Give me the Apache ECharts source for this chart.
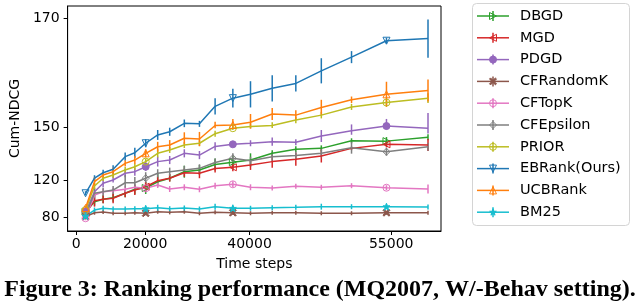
<!DOCTYPE html>
<html><head><meta charset="utf-8">
<script src="https://cdn.jsdelivr.net/npm/echarts@6/dist/echarts.min.js"></script>
<style>html,body{margin:0;padding:0;background:#fff}#c{width:640px;height:308px}</style>
</head><body><div id="c"></div>
<script>
// ---------------- data ----------------
const timeSteps = [2700, 5300, 7800, 10700, 14200, 17000, 20100, 22400, 24700, 27500, 30400, 33400, 36800, 40100, 42400, 44900, 47600, 50800, 54500, 58900];
const xTickValues = [0, 20000, 40000, 55000];
const yTickValues = [80, 120, 150, 170];
const seriesNames = ['DBGD', 'MGD', 'PDGD', 'CFRandomK', 'CFTopK', 'CFEpsilon', 'PRIOR', 'EBRank(Ours)', 'UCBRank', 'BM25'];

const dbgd = [86.5, 97.3, 99.9, 101.6, 106.4, 110.7, 112.1, 118.9, 121.4, 125.1, 126.1, 129.2, 130.5, 131.7, 135.5, 137.8, 138.3, 142.6, 142.4, 144.6];
const dbgdErr = [3.2, 4.3, 4.3, 4.3, 4.3, 5.4, 6.5, 5.4, 2.3, 3.4, 2.8, 3.4, 3.7, 3.8, 1.7, 1.7, 1.7, 1.4, 2.3, 1.7];
const mgd = [84.8, 98.4, 99.9, 101.0, 106.4, 109.9, 113.5, 120.0, 121.4, 124.5, 124.2, 126.9, 127.6, 128.9, 130.8, 132.1, 134.0, 138.3, 140.6, 140.2];
const mgdErr = [3.2, 6.5, 4.3, 5.4, 4.3, 5.4, 5.4, 2.3, 2.3, 2.3, 2.8, 2.3, 2.3, 2.8, 3.4, 3.7, 3.7, 1.0, 1.7, 3.4];
const pdgd = [86.5, 108.1, 117.2, 120.4, 124.2, 125.1, 127.9, 130.8, 131.7, 135.5, 134.5, 139.4, 140.6, 141.2, 142.1, 141.8, 145.3, 148.3, 150.3, 149.7];
const pdgdErr = [3.2, 4.3, 4.3, 2.3, 2.3, 2.3, 2.3, 2.8, 2.3, 2.3, 2.3, 2.3, 1.7, 1.7, 2.3, 1.7, 3.4, 2.3, 1.3, 3.0];
const cfRandomK = [81.1, 85.4, 86.2, 84.8, 84.8, 85.4, 84.8, 86.5, 85.8, 86.5, 84.8, 85.8, 85.4, 84.8, 85.4, 85.4, 84.8, 84.8, 85.4, 85.4];
const cfRandomKErr = [1.6, 2.2, 2.2, 2.2, 2.2, 2.2, 2.2, 2.2, 2.2, 2.2, 2.2, 2.2, 2.2, 2.2, 2.2, 2.2, 2.2, 2.2, 2.2, 2.2];
const cfTopK = [79.4, 104.5, 108.1, 109.2, 110.7, 112.9, 111.8, 115.3, 111.0, 112.9, 110.7, 114.6, 116.1, 112.9, 112.1, 113.9, 112.9, 114.6, 112.4, 111.0];
const cfTopKErr = [2.2, 3.2, 3.2, 3.2, 3.2, 3.2, 3.2, 3.2, 3.2, 3.2, 3.2, 3.2, 3.2, 3.2, 2.7, 2.7, 2.7, 2.7, 2.7, 4.9];
const cfEpsilon = [82.9, 106.4, 108.1, 109.9, 117.8, 117.8, 121.4, 124.2, 125.1, 126.1, 127.0, 130.3, 132.7, 131.3, 133.6, 134.2, 135.5, 138.7, 136.4, 139.2];
const cfEpsilonErr = [3.2, 5.4, 4.3, 4.3, 5.4, 4.3, 3.4, 2.3, 2.3, 2.3, 2.3, 2.3, 2.8, 2.3, 2.3, 2.3, 2.3, 3.4, 2.3, 2.3];
const prior = [88.3, 114.3, 121.4, 123.2, 126.1, 127.9, 130.8, 135.5, 137.4, 140.2, 141.2, 146.6, 149.7, 150.2, 150.4, 151.4, 152.3, 153.8, 154.6, 155.4];
const priorErr = [2.2, 3.2, 1.7, 1.7, 1.7, 1.7, 1.7, 2.3, 1.7, 1.7, 1.7, 1.7, 1.0, 0.6, 0.6, 0.6, 0.6, 0.55, 0.55, 0.9];
const ebRank = [106.4, 121.4, 124.5, 126.5, 133.6, 135.8, 141.2, 145.9, 147.7, 150.8, 150.7, 153.9, 155.4, 156.1, 157.2, 158.1, 160.4, 162.9, 165.9, 166.3];
const ebRankErr = [2.2, 1.7, 1.7, 2.3, 2.3, 2.8, 2.3, 2.8, 2.3, 0.7, 0.55, 1.5, 1.7, 2.4, 2.4, 1.5, 2.3, 1.1, 0.55, 3.5];
const ucbRank = [90.5, 118.9, 123.2, 125.1, 129.8, 131.7, 135.5, 139.2, 140.2, 144.0, 143.6, 150.4, 150.5, 151.0, 152.5, 152.3, 153.7, 155.1, 156.1, 156.8];
const ucbRankErr = [2.2, 3.2, 1.7, 2.3, 1.7, 2.3, 2.3, 2.8, 2.8, 3.4, 4.0, 0.7, 1.1, 1.5, 1.1, 0.9, 1.4, 0.6, 2.3, 2.0];
const bm25 = [81.8, 88.3, 90.2, 89.4, 89.4, 89.7, 89.7, 90.8, 89.7, 90.5, 89.4, 91.9, 90.2, 90.2, 90.8, 91.2, 91.9, 91.9, 91.9, 91.6];
const bm25Err = [2.2, 2.7, 2.7, 2.7, 2.7, 2.7, 2.7, 3.2, 2.7, 2.7, 2.7, 3.2, 2.7, 2.7, 2.7, 2.7, 3.2, 2.7, 2.7, 2.7];

const seriesValues = [dbgd, mgd, pdgd, cfRandomK, cfTopK, cfEpsilon, prior, ebRank, ucbRank, bm25];
const seriesErrors = [dbgdErr, mgdErr, pdgdErr, cfRandomKErr, cfTopKErr, cfEpsilonErr, priorErr, ebRankErr, ucbRankErr, bm25Err];

// ---------------- styles / layout ----------------
const colors = ['#2ca02c', '#d62728', '#9467bd', '#8c564b', '#e377c2', '#7f7f7f', '#bcbd22', '#1f77b4', '#ff7f0e', '#17becf'];
const markerShapes = {
  tri_right: [[0, 0], [10, 5], [0, 10]],
  tri_left: [[10, 0], [10, 10], [0, 5]],
  x: [[0, 1.5], [1.5, 0], [5, 3.5], [8.5, 0], [10, 1.5], [6.5, 5], [10, 8.5], [8.5, 10], [5, 6.5], [1.5, 10], [0, 8.5], [3.5, 5]],
  diamond: [[5, 0], [10, 5], [5, 10], [0, 5]],
  tri_down: [[0, 0], [10, 0], [5, 10]],
  tri_up: [[5, 0], [10, 10], [0, 10]],
  star: [[5, 0.2], [6.18, 3.58], [9.76, 3.66], [6.9, 5.82], [7.94, 9.25], [5, 7.2], [2.06, 9.25], [3.1, 5.82], [0.24, 3.66], [3.82, 3.58]]
};
const markers = ['tri_right', 'tri_left', 'circle', 'x', 'circle', 'diamond', 'circle', 'tri_down', 'tri_up', 'star'];
const hollow = [true, true, false, false, true, true, true, true, true, false];
const markEvery = 6;
const MS = 7;
function symbolOf(m) {
  if (m === 'circle') return 'circle';
  return 'path://M' + markerShapes[m].map(p => p[0] + ' ' + p[1]).join(' L') + ' Z';
}

// nonlinear axes of the original figure: tick value -> offset inside the plot box
const gridLeft = 64, gridTop = 6, gridW = 377, gridH = 225;
const xTickPos = [8.7, 78.3, 183.7, 326.7];
const yTickPos = [13.3, 50.3, 103.3, 212.7];
function interp(v, xs, ys) {
  let i = 0;
  if (v >= xs[xs.length - 1]) i = xs.length - 2;
  else if (v > xs[0]) { while (v > xs[i + 1]) i++; }
  return ys[i] + (v - xs[i]) * (ys[i + 1] - ys[i]) / (xs[i + 1] - xs[i]);
}
const toX = v => interp(v, xTickValues, xTickPos);
const toY = v => interp(v, yTickValues, yTickPos);
function labelFor(val, ticks, pos) {
  for (let i = 0; i < ticks.length; i++) if (Math.abs(pos[i] - val) < 0.05) return String(ticks[i]);
  return '';
}

const FONT = 'DejaVu Sans';
const series = [];
seriesNames.forEach((name, s) => {
  const c = colors[s];
  const vals = seriesValues[s], errs = seriesErrors[s];
  series.push({
    type: 'custom', name: name + '-err', silent: true,
    data: timeSteps.map((t, i) => [toX(t), toY(vals[i] - errs[i]), toY(vals[i] + errs[i])]),
    renderItem: (params, api) => {
      const p1 = api.coord([api.value(0), api.value(1)]);
      const p2 = api.coord([api.value(0), api.value(2)]);
      return { type: 'line', shape: { x1: p1[0], y1: p1[1], x2: p2[0], y2: p2[1] }, style: { stroke: c, lineWidth: 1.5 } };
    },
    z: 2
  });
  series.push({
    type: 'line', name: name, silent: true,
    data: timeSteps.map((t, i) => ({
      value: [toX(t), toY(vals[i])],
      symbol: i % markEvery === 0 ? symbolOf(markers[s]) : 'none'
    })),
    symbolSize: MS,
    showAllSymbol: true,
    lineStyle: { color: c, width: 1.5 },
    itemStyle: { color: hollow[s] ? 'rgba(255,255,255,0)' : c, borderColor: c, borderWidth: 1 },
    z: 2
  });
});

// legend drawn with graphic elements (line + error bar + marker + text)
const graphics = [{
  type: 'rect', shape: { x: 472.5, y: 3.5, width: 157, height: 222, r: 4 },
  style: { fill: '#fff', stroke: '#d4d4d4', lineWidth: 1 }, z: 10
}];
seriesNames.forEach((name, s) => {
  const y = 16 + s * 21.8, c = colors[s], cx = 493;
  graphics.push({ type: 'line', shape: { x1: 477, y1: y, x2: 509, y2: y }, style: { stroke: c, lineWidth: 1.5 }, z: 11 });
  graphics.push({ type: 'line', shape: { x1: cx, y1: y - 5, x2: cx, y2: y + 5 }, style: { stroke: c, lineWidth: 1.5 }, z: 11 });
  const mstyle = { fill: hollow[s] ? 'rgba(255,255,255,0)' : c, stroke: c, lineWidth: 1 };
  if (markers[s] === 'circle') {
    graphics.push({ type: 'circle', shape: { cx: cx, cy: y, r: MS / 2 }, style: mstyle, z: 12 });
  } else {
    graphics.push({
      type: 'polygon',
      shape: { points: markerShapes[markers[s]].map(p => [cx - MS / 2 + p[0] * MS / 10, y - MS / 2 + p[1] * MS / 10]) },
      style: mstyle, z: 12
    });
  }
  graphics.push({
    type: 'text', x: 520, y: y,
    style: { text: name, fontFamily: FONT, fontSize: 14.5, fill: '#000', verticalAlign: 'middle', align: 'left' }, z: 12
  });
});
graphics.push({
  type: 'text', x: 320, y: 290,
  style: { text: 'Figure 3: Ranking performance (MQ2007, W/-Behav setting).', fontFamily: 'Liberation Serif', fontWeight: 'bold', fontSize: 24, fill: '#000', align: 'center', verticalAlign: 'middle' }
});

const chart = echarts.init(document.getElementById('c'), null, { renderer: 'canvas' });
chart.setOption({
  animation: false,
  backgroundColor: '#fff',
  grid: { left: gridLeft, top: gridTop, width: gridW, height: gridH, show: true, borderColor: '#000', borderWidth: 1, backgroundColor: 'rgba(0,0,0,0)' },
  xAxis: {
    type: 'value', min: 0, max: gridW,
    name: 'Time steps', nameLocation: 'middle', nameGap: 26,
    nameTextStyle: { fontFamily: FONT, fontSize: 14, color: '#000' },
    axisLine: { show: true, lineStyle: { color: '#000', width: 1 } },
    axisTick: { show: true, length: 4, lineStyle: { color: '#000' }, customValues: xTickValues.map(toX) },
    axisLabel: { show: true, margin: 6, fontFamily: FONT, fontSize: 14, color: '#000', customValues: xTickValues.map(toX),
      formatter: v => labelFor(v, xTickValues, xTickValues.map(toX)) },
    splitLine: { show: false }
  },
  yAxis: {
    type: 'value', min: 0, max: gridH,
    name: 'Cum-NDCG', nameLocation: 'middle', nameGap: 40, nameRotate: 90,
    nameTextStyle: { fontFamily: FONT, fontSize: 14, color: '#000' },
    axisLine: { show: true, lineStyle: { color: '#000', width: 1 } },
    axisTick: { show: true, length: 4, lineStyle: { color: '#000' }, customValues: yTickValues.map(toY) },
    axisLabel: { show: true, margin: 8, fontFamily: FONT, fontSize: 14, color: '#000', customValues: yTickValues.map(toY),
      formatter: v => labelFor(v, yTickValues, yTickValues.map(toY)) },
    splitLine: { show: false }
  },
  graphic: graphics,
  series: series
});
</script>
</body></html>
